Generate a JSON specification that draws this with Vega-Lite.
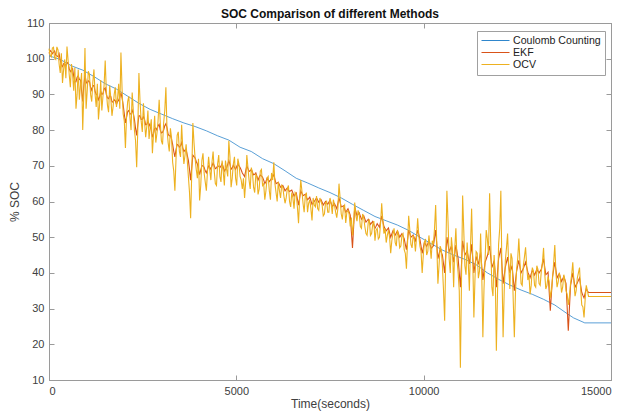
{
  "$schema": "https://vega.github.io/schema/vega-lite/v6.json",
  "width": 562,
  "height": 357,
  "autosize": {"type": "none"},
  "padding": {"left": 49, "top": 23, "right": 19, "bottom": 35},
  "background": "white",
  "title": {"text": "SOC Comparison of different Methods", "font": "Liberation Sans", "fontSize": 12, "fontWeight": "bold", "color": "#111111", "anchor": "middle", "offset": 5, "dy": 9},
  "datasets": {
    "cc": [
      {"t":0,"v":100.8},{"t":300,"v":99.8},{"t":600,"v":98},{"t":900,"v":96.8},{"t":1200,"v":95},{"t":1500,"v":93},{"t":1800,"v":91.5},{"t":2100,"v":89.5},{"t":2400,"v":87.5},{"t":2700,"v":85.8},{"t":3000,"v":84.5},{"t":3300,"v":83.2},{"t":3600,"v":82},{"t":3900,"v":81},{"t":4200,"v":79.8},{"t":4500,"v":78.4},{"t":4800,"v":77.2},{"t":5100,"v":75.2},{"t":5400,"v":74},{"t":5700,"v":72},{"t":6000,"v":70.6},{"t":6300,"v":68.6},{"t":6600,"v":66.5},{"t":6900,"v":65.2},{"t":7200,"v":63.8},{"t":7500,"v":62.5},{"t":7800,"v":61},{"t":8100,"v":59.2},{"t":8400,"v":57.5},{"t":8700,"v":55.8},{"t":9000,"v":54.6},{"t":9300,"v":53.4},{"t":9600,"v":51.9},{"t":9900,"v":50},{"t":10200,"v":48.2},{"t":10500,"v":46.4},{"t":10800,"v":45},{"t":11100,"v":43.8},{"t":11400,"v":42.3},{"t":11700,"v":40},{"t":12000,"v":38.2},{"t":12300,"v":36.6},{"t":12600,"v":35.2},{"t":12900,"v":34},{"t":13200,"v":32.6},{"t":13500,"v":31},{"t":13800,"v":28.8},{"t":14000,"v":27.4},{"t":14300,"v":26},{"t":15000,"v":26}
    ],
    "noisy": [
      {"t":0,"o":102.8,"e":101.5},{"t":30,"o":101.0,"e":102.3},{"t":60,"o":100.5,"e":102.0},{"t":90,"o":103.0,"e":101.4},{"t":120,"o":103.2,"e":101.8},{"t":150,"o":100.2,"e":102.2},{"t":180,"o":99.8,"e":101.0},{"t":210,"o":103.3,"e":100.8},{"t":240,"o":102.5,"e":100.6},{"t":270,"o":98.5,"e":101.4},{"t":300,"o":96.0,"e":99.5},{"t":330,"o":101.5,"e":98.2},{"t":360,"o":93.2,"e":97.8},{"t":390,"o":97.0,"e":98.6},{"t":420,"o":99.8,"e":98.5},{"t":450,"o":94.5,"e":98.0},{"t":480,"o":103.4,"e":99.0},{"t":510,"o":99.5,"e":98.8},{"t":540,"o":95.5,"e":97.2},{"t":570,"o":92.0,"e":96.4},{"t":600,"o":98.5,"e":96.8},{"t":630,"o":95.5,"e":97.2},{"t":660,"o":91.0,"e":95.0},{"t":690,"o":97.5,"e":93.6},{"t":720,"o":86.0,"e":93.5},{"t":750,"o":90.0,"e":94.8},{"t":780,"o":97.0,"e":95.2},{"t":810,"o":88.5,"e":94.2},{"t":840,"o":92.5,"e":94.0},{"t":870,"o":96.0,"e":91.0},{"t":900,"o":80.0,"e":88.0},{"t":930,"o":90.5,"e":92.5},{"t":960,"o":103.0,"e":95.5},{"t":990,"o":86.0,"e":93.6},{"t":1020,"o":91.0,"e":93.0},
      {"t":1050,"o":96.5,"e":93.8},{"t":1080,"o":95.5,"e":93.6},{"t":1110,"o":90.0,"e":92.0},{"t":1140,"o":88.0,"e":91.2},{"t":1170,"o":93.5,"e":92.4},{"t":1200,"o":97.0,"e":92.5},{"t":1230,"o":90.0,"e":90.8},{"t":1260,"o":86.5,"e":90.0},{"t":1290,"o":93.0,"e":89.8},{"t":1320,"o":83.0,"e":88.5},{"t":1350,"o":87.0,"e":89.2},{"t":1380,"o":94.0,"e":90.8},{"t":1410,"o":85.5,"e":90.0},{"t":1440,"o":89.5,"e":90.2},{"t":1470,"o":92.5,"e":91.5},{"t":1500,"o":99.5,"e":91.8},{"t":1530,"o":91.0,"e":90.0},{"t":1560,"o":87.0,"e":89.0},{"t":1590,"o":85.0,"e":88.8},{"t":1620,"o":92.5,"e":89.6},{"t":1650,"o":89.0,"e":89.4},{"t":1680,"o":84.0,"e":88.0},{"t":1710,"o":86.5,"e":87.8},{"t":1740,"o":90.0,"e":88.5},{"t":1770,"o":92.0,"e":88.2},{"t":1800,"o":86.5,"e":87.2},{"t":1830,"o":89.0,"e":88.0},{"t":1860,"o":93.0,"e":88.4},{"t":1890,"o":86.0,"e":89.2},{"t":1920,"o":101.7,"e":90.5},{"t":1950,"o":91.5,"e":89.0},{"t":1980,"o":84.5,"e":87.0},{"t":2010,"o":82.5,"e":84.5},{"t":2040,"o":75.0,"e":82.0},
      {"t":2070,"o":84.0,"e":83.6},{"t":2100,"o":88.0,"e":85.2},{"t":2130,"o":89.5,"e":85.5},{"t":2160,"o":83.5,"e":84.5},{"t":2190,"o":80.0,"e":84.5},{"t":2220,"o":90.5,"e":85.6},{"t":2250,"o":85.5,"e":84.6},{"t":2280,"o":80.0,"e":83.0},{"t":2310,"o":77.0,"e":80.5},{"t":2340,"o":69.6,"e":78.5},{"t":2370,"o":80.0,"e":81.5},{"t":2400,"o":96.0,"e":84.0},{"t":2430,"o":88.0,"e":84.0},{"t":2460,"o":82.5,"e":83.0},{"t":2490,"o":79.5,"e":83.0},{"t":2520,"o":87.5,"e":83.8},{"t":2550,"o":82.5,"e":83.0},{"t":2580,"o":78.0,"e":81.5},{"t":2610,"o":81.0,"e":81.6},{"t":2640,"o":85.5,"e":82.4},{"t":2670,"o":77.5,"e":81.8},{"t":2700,"o":80.5,"e":81.0},{"t":2730,"o":83.0,"e":80.0},{"t":2760,"o":73.5,"e":78.0},{"t":2790,"o":79.0,"e":79.0},{"t":2820,"o":84.0,"e":80.5},{"t":2850,"o":76.5,"e":80.6},{"t":2880,"o":79.0,"e":80.0},{"t":2910,"o":82.5,"e":81.2},{"t":2940,"o":88.5,"e":81.6},{"t":2970,"o":82.0,"e":80.0},{"t":3000,"o":77.0,"e":79.2},{"t":3030,"o":76.0,"e":79.4},{"t":3060,"o":82.0,"e":80.0},
      {"t":3090,"o":85.5,"e":81.2},{"t":3120,"o":92.0,"e":81.8},{"t":3150,"o":80.0,"e":80.6},{"t":3180,"o":76.5,"e":78.8},{"t":3210,"o":74.0,"e":78.4},{"t":3240,"o":80.5,"e":78.5},{"t":3270,"o":78.0,"e":77.5},{"t":3300,"o":71.0,"e":76.0},{"t":3330,"o":68.5,"e":74.0},{"t":3360,"o":63.0,"e":72.5},{"t":3390,"o":72.0,"e":74.5},{"t":3420,"o":78.5,"e":76.0},{"t":3450,"o":79.5,"e":75.8},{"t":3480,"o":74.0,"e":75.2},{"t":3510,"o":72.5,"e":75.6},{"t":3540,"o":81.5,"e":76.5},{"t":3570,"o":75.0,"e":75.0},{"t":3600,"o":70.5,"e":74.0},{"t":3630,"o":73.0,"e":74.4},{"t":3660,"o":76.0,"e":74.5},{"t":3690,"o":71.5,"e":73.0},{"t":3720,"o":67.0,"e":71.5},{"t":3750,"o":62.5,"e":69.0},{"t":3780,"o":55.3,"e":66.0},{"t":3810,"o":68.0,"e":69.5},{"t":3840,"o":82.0,"e":73.0},{"t":3870,"o":76.5,"e":72.6},{"t":3900,"o":72.0,"e":72.2},{"t":3930,"o":69.0,"e":71.2},{"t":3960,"o":66.5,"e":70.5},{"t":3990,"o":72.0,"e":69.0},{"t":4020,"o":60.3,"e":67.5},{"t":4050,"o":64.5,"e":68.8},{"t":4080,"o":71.5,"e":70.0},
      {"t":4110,"o":73.5,"e":70.0},{"t":4140,"o":68.0,"e":69.6},{"t":4170,"o":65.5,"e":68.6},{"t":4200,"o":63.0,"e":68.0},{"t":4230,"o":68.5,"e":69.0},{"t":4260,"o":72.5,"e":70.0},{"t":4290,"o":69.0,"e":69.6},{"t":4320,"o":66.0,"e":69.0},{"t":4350,"o":71.0,"e":70.0},{"t":4380,"o":74.0,"e":70.8},{"t":4410,"o":68.5,"e":70.0},{"t":4440,"o":65.0,"e":69.2},{"t":4470,"o":64.5,"e":69.4},{"t":4500,"o":70.5,"e":70.0},{"t":4530,"o":73.0,"e":69.9},{"t":4560,"o":67.0,"e":69.5},{"t":4590,"o":65.5,"e":69.9},{"t":4620,"o":71.5,"e":70.6},{"t":4650,"o":68.5,"e":69.6},{"t":4680,"o":64.5,"e":68.5},{"t":4710,"o":71.5,"e":69.0},{"t":4740,"o":69.0,"e":69.4},{"t":4770,"o":67.0,"e":70.4},{"t":4800,"o":77.0,"e":71.5},{"t":4830,"o":72.5,"e":70.4},{"t":4860,"o":64.0,"e":69.0},{"t":4890,"o":66.5,"e":69.4},{"t":4920,"o":70.5,"e":70.2},{"t":4950,"o":72.5,"e":69.6},{"t":4980,"o":66.5,"e":69.0},{"t":5010,"o":64.5,"e":69.8},{"t":5040,"o":72.0,"e":70.5},{"t":5070,"o":70.5,"e":70.0},{"t":5100,"o":67.0,"e":69.5},
      {"t":5130,"o":66.0,"e":68.8},{"t":5160,"o":63.5,"e":68.0},{"t":5190,"o":66.5,"e":67.5},{"t":5220,"o":61.0,"e":67.0},{"t":5250,"o":65.5,"e":68.6},{"t":5280,"o":73.0,"e":70.0},{"t":5310,"o":69.5,"e":69.2},{"t":5340,"o":66.0,"e":68.4},{"t":5370,"o":63.5,"e":68.6},{"t":5400,"o":69.5,"e":69.0},{"t":5430,"o":68.0,"e":68.2},{"t":5460,"o":64.0,"e":67.5},{"t":5490,"o":62.5,"e":67.6},{"t":5520,"o":67.5,"e":68.0},{"t":5550,"o":67.0,"e":67.0},{"t":5580,"o":62.0,"e":66.0},{"t":5610,"o":63.5,"e":66.8},{"t":5640,"o":68.5,"e":67.4},{"t":5670,"o":69.0,"e":67.2},{"t":5700,"o":64.5,"e":66.8},{"t":5730,"o":65.0,"e":66.0},{"t":5760,"o":60.5,"e":65.0},{"t":5790,"o":63.0,"e":65.6},{"t":5820,"o":66.5,"e":66.5},{"t":5850,"o":67.0,"e":66.0},{"t":5880,"o":63.0,"e":65.6},{"t":5910,"o":60.5,"e":66.0},{"t":5940,"o":68.0,"e":66.5},{"t":5970,"o":66.0,"e":67.0},{"t":6000,"o":71.0,"e":67.5},{"t":6030,"o":65.0,"e":66.2},{"t":6060,"o":62.5,"e":65.0},
      {"t":6090,"o":60.0,"e":65.2},{"t":6120,"o":65.5,"e":65.4},{"t":6150,"o":63.0,"e":64.7},{"t":6180,"o":61.0,"e":64.0},{"t":6210,"o":64.5,"e":64.2},{"t":6240,"o":64.0,"e":64.5},{"t":6270,"o":61.5,"e":63.8},{"t":6300,"o":59.5,"e":63.0},{"t":6330,"o":61.0,"e":63.4},{"t":6360,"o":63.5,"e":63.8},{"t":6390,"o":64.5,"e":63.2},{"t":6420,"o":60.0,"e":62.8},{"t":6450,"o":58.5,"e":63.0},{"t":6480,"o":62.5,"e":63.2},{"t":6510,"o":61.0,"e":62.4},{"t":6540,"o":58.0,"e":61.5},{"t":6570,"o":62.5,"e":62.0},{"t":6600,"o":62.0,"e":62.4},{"t":6630,"o":58.5,"e":60.7},{"t":6660,"o":53.9,"e":59.0},{"t":6690,"o":61.0,"e":61.0},{"t":6720,"o":66.0,"e":63.0},{"t":6750,"o":63.0,"e":62.3},{"t":6780,"o":59.5,"e":61.6},{"t":6810,"o":57.0,"e":61.8},{"t":6840,"o":61.5,"e":62.0},{"t":6870,"o":62.5,"e":61.2},{"t":6900,"o":57.0,"e":60.5},{"t":6930,"o":59.5,"e":60.8},{"t":6960,"o":60.5,"e":61.2},{"t":6990,"o":58.0,"e":60.2},{"t":7020,"o":54.7,"e":59.2},{"t":7050,"o":61.0,"e":59.6},{"t":7080,"o":59.0,"e":60.0},
      {"t":7110,"o":58.5,"e":60.5},{"t":7140,"o":61.5,"e":61.0},{"t":7170,"o":58.0,"e":60.4},{"t":7200,"o":57.5,"e":59.8},{"t":7230,"o":61.0,"e":60.2},{"t":7260,"o":60.0,"e":60.5},{"t":7290,"o":59.0,"e":59.8},{"t":7320,"o":56.0,"e":59.0},{"t":7350,"o":56.5,"e":59.5},{"t":7380,"o":59.5,"e":60.0},{"t":7410,"o":60.0,"e":59.6},{"t":7440,"o":57.0,"e":59.2},{"t":7470,"o":57.0,"e":59.8},{"t":7500,"o":61.0,"e":60.4},{"t":7530,"o":59.5,"e":59.5},{"t":7560,"o":56.5,"e":58.6},{"t":7590,"o":60.5,"e":59.0},{"t":7620,"o":59.0,"e":59.4},{"t":7650,"o":57.0,"e":58.7},{"t":7680,"o":55.5,"e":58.0},{"t":7710,"o":58.0,"e":59.5},{"t":7740,"o":65.0,"e":61.0},{"t":7770,"o":61.0,"e":59.8},{"t":7800,"o":56.5,"e":58.5},{"t":7830,"o":55.0,"e":58.6},{"t":7860,"o":58.5,"e":58.8},{"t":7890,"o":59.0,"e":57.9},{"t":7920,"o":54.0,"e":57.0},{"t":7950,"o":57.0,"e":57.5},{"t":7980,"o":57.5,"e":58.0},{"t":8010,"o":56.5,"e":57.1},{"t":8040,"o":53.0,"e":56.2},{"t":8070,"o":55.5,"e":51.6},{"t":8100,"o":50.5,"e":47.0},
      {"t":8130,"o":54.0,"e":52.8},{"t":8160,"o":59.7,"e":58.5},{"t":8190,"o":56.0,"e":57.2},{"t":8220,"o":54.5,"e":56.0},{"t":8250,"o":57.5,"e":56.4},{"t":8280,"o":56.5,"e":56.8},{"t":8310,"o":53.0,"e":55.9},{"t":8340,"o":52.5,"e":55.0},{"t":8370,"o":56.5,"e":55.5},{"t":8400,"o":55.5,"e":56.0},{"t":8430,"o":53.0,"e":55.1},{"t":8460,"o":51.0,"e":54.2},{"t":8490,"o":50.5,"e":54.6},{"t":8520,"o":54.0,"e":55.0},{"t":8550,"o":55.0,"e":54.3},{"t":8580,"o":50.5,"e":53.6},{"t":8610,"o":51.0,"e":54.0},{"t":8640,"o":53.5,"e":54.4},{"t":8670,"o":54.5,"e":53.5},{"t":8700,"o":49.0,"e":52.5},{"t":8730,"o":52.0,"e":53.1},{"t":8760,"o":52.5,"e":53.8},{"t":8790,"o":49.5,"e":53.3},{"t":8820,"o":50.0,"e":52.8},{"t":8850,"o":54.0,"e":54.4},{"t":8880,"o":59.5,"e":56.0},{"t":8910,"o":54.5,"e":54.5},{"t":8940,"o":51.0,"e":53.0},{"t":8970,"o":52.5,"e":52.4},{"t":9000,"o":48.5,"e":51.8},{"t":9030,"o":50.5,"e":52.2},{"t":9060,"o":52.0,"e":52.6},{"t":9090,"o":50.0,"e":51.3},{"t":9120,"o":45.5,"e":50.0},
      {"t":9150,"o":49.0,"e":50.9},{"t":9180,"o":51.0,"e":51.8},{"t":9210,"o":52.5,"e":51.2},{"t":9240,"o":48.5,"e":50.6},{"t":9270,"o":47.5,"e":51.2},{"t":9300,"o":52.0,"e":51.8},{"t":9330,"o":50.5,"e":50.9},{"t":9360,"o":47.0,"e":50.0},{"t":9390,"o":47.5,"e":50.5},{"t":9420,"o":50.5,"e":51.0},{"t":9450,"o":51.0,"e":50.3},{"t":9480,"o":46.5,"e":49.6},{"t":9510,"o":45.5,"e":48.0},{"t":9540,"o":41.2,"e":46.5},{"t":9570,"o":48.5,"e":49.3},{"t":9600,"o":56.0,"e":52.0},{"t":9630,"o":52.0,"e":51.0},{"t":9660,"o":48.0,"e":50.0},{"t":9690,"o":47.0,"e":50.3},{"t":9720,"o":50.5,"e":50.6},{"t":9750,"o":49.5,"e":49.8},{"t":9780,"o":46.0,"e":49.0},{"t":9810,"o":50.0,"e":50.5},{"t":9840,"o":55.3,"e":52.0},{"t":9870,"o":50.5,"e":50.7},{"t":9900,"o":47.5,"e":49.4},{"t":9930,"o":46.0,"e":47.5},{"t":9960,"o":40.0,"e":45.5},{"t":9990,"o":45.0,"e":47.0},{"t":10020,"o":48.5,"e":48.6},{"t":10050,"o":49.5,"e":48.0},{"t":10080,"o":45.0,"e":47.4},
      {"t":10110,"o":46.0,"e":48.2},{"t":10140,"o":50.5,"e":49.0},{"t":10170,"o":47.5,"e":47.9},{"t":10200,"o":44.0,"e":46.8},{"t":10230,"o":49.0,"e":47.2},{"t":10260,"o":48.0,"e":47.6},{"t":10290,"o":52.5,"e":49.8},{"t":10320,"o":59.0,"e":52.0},{"t":10350,"o":48.0,"e":48.0},{"t":10380,"o":37.0,"e":44.0},{"t":10410,"o":42.0,"e":45.3},{"t":10440,"o":47.5,"e":46.6},{"t":10470,"o":46.5,"e":45.8},{"t":10500,"o":42.0,"e":45.0},{"t":10530,"o":35.0,"e":42.5},{"t":10560,"o":26.6,"e":40.0},{"t":10590,"o":45.0,"e":45.0},{"t":10620,"o":63.0,"e":50.0},{"t":10650,"o":54.5,"e":48.0},{"t":10680,"o":44.0,"e":46.0},{"t":10710,"o":40.0,"e":46.7},{"t":10740,"o":50.0,"e":47.5},{"t":10770,"o":46.5,"e":45.2},{"t":10800,"o":36.0,"e":43.0},{"t":10830,"o":47.0,"e":45.4},{"t":10860,"o":52.5,"e":47.8},{"t":10890,"o":43.5,"e":45.9},{"t":10920,"o":40.0,"e":44.0},{"t":10950,"o":35.0,"e":40.0},{"t":10980,"o":13.4,"e":36.0},{"t":11010,"o":38.0,"e":42.5},{"t":11040,"o":61.7,"e":49.0},{"t":11070,"o":52.0,"e":47.0},{"t":11100,"o":42.0,"e":45.0},
      {"t":11130,"o":39.5,"e":45.6},{"t":11160,"o":48.5,"e":46.2},{"t":11190,"o":43.0,"e":44.4},{"t":11220,"o":35.0,"e":42.5},{"t":11250,"o":47.5,"e":45.2},{"t":11280,"o":58.0,"e":48.0},{"t":11310,"o":44.0,"e":44.0},{"t":11340,"o":27.5,"e":40.0},{"t":11370,"o":38.5,"e":42.3},{"t":11400,"o":46.0,"e":44.6},{"t":11430,"o":45.5,"e":43.5},{"t":11460,"o":38.5,"e":42.4},{"t":11490,"o":40.5,"e":44.1},{"t":11520,"o":51.0,"e":45.8},{"t":11550,"o":40.0,"e":41.9},{"t":11580,"o":22.0,"e":38.0},{"t":11610,"o":35.5,"e":40.5},{"t":11640,"o":44.0,"e":43.0},{"t":11670,"o":52.0,"e":43.9},{"t":11700,"o":49.5,"e":44.8},{"t":11730,"o":45.0,"e":46.1},{"t":11760,"o":62.3,"e":47.5},{"t":11790,"o":48.5,"e":44.5},{"t":11820,"o":36.0,"e":41.5},{"t":11850,"o":33.5,"e":42.4},{"t":11880,"o":45.0,"e":43.4},{"t":11910,"o":39.5,"e":39.7},{"t":11940,"o":18.2,"e":36.0},{"t":11970,"o":34.0,"e":40.0},{"t":12000,"o":48.0,"e":44.0},{"t":12030,"o":52.5,"e":45.5},{"t":12060,"o":63.0,"e":47.0},{"t":12090,"o":40.0,"e":42.0},{"t":12120,"o":22.0,"e":37.0},
      {"t":12150,"o":35.0,"e":39.3},{"t":12180,"o":43.5,"e":41.6},{"t":12210,"o":47.0,"e":43.0},{"t":12240,"o":51.0,"e":44.4},{"t":12270,"o":42.0,"e":42.2},{"t":12300,"o":35.5,"e":40.0},{"t":12330,"o":45.5,"e":41.0},{"t":12360,"o":44.0,"e":42.0},{"t":12390,"o":32.5,"e":38.5},{"t":12420,"o":22.0,"e":35.0},{"t":12450,"o":34.5,"e":37.7},{"t":12480,"o":41.0,"e":40.4},{"t":12510,"o":44.0,"e":42.0},{"t":12540,"o":49.6,"e":43.5},{"t":12570,"o":43.0,"e":41.7},{"t":12600,"o":37.0,"e":40.0},{"t":12630,"o":36.5,"e":40.6},{"t":12660,"o":42.0,"e":41.2},{"t":12690,"o":44.5,"e":42.1},{"t":12720,"o":47.2,"e":43.0},{"t":12750,"o":42.0,"e":41.6},{"t":12780,"o":38.0,"e":40.2},{"t":12810,"o":39.5,"e":39.4},{"t":12840,"o":34.0,"e":38.6},{"t":12870,"o":36.5,"e":39.7},{"t":12900,"o":41.5,"e":40.8},{"t":12930,"o":40.5,"e":40.1},{"t":12960,"o":36.5,"e":39.4},{"t":12990,"o":36.0,"e":40.2},{"t":13020,"o":42.0,"e":41.0},{"t":13050,"o":41.0,"e":40.5},{"t":13080,"o":37.0,"e":40.0},
      {"t":13110,"o":36.5,"e":40.5},{"t":13140,"o":40.5,"e":41.0},{"t":13170,"o":43.0,"e":42.5},{"t":13200,"o":47.0,"e":44.0},{"t":13230,"o":40.0,"e":41.7},{"t":13260,"o":35.5,"e":39.5},{"t":13290,"o":36.5,"e":39.8},{"t":13320,"o":39.0,"e":40.2},{"t":13350,"o":37.5,"e":34.8},{"t":13380,"o":33.0,"e":29.4},{"t":13410,"o":35.0,"e":34.2},{"t":13440,"o":38.5,"e":39.0},{"t":13470,"o":43.0,"e":41.0},{"t":13500,"o":47.8,"e":43.0},{"t":13530,"o":40.0,"e":40.8},{"t":13560,"o":36.0,"e":38.6},{"t":13590,"o":37.5,"e":39.2},{"t":13620,"o":40.0,"e":39.8},{"t":13650,"o":38.5,"e":38.7},{"t":13680,"o":34.5,"e":37.6},{"t":13710,"o":36.0,"e":38.3},{"t":13740,"o":39.5,"e":39.0},{"t":13770,"o":38.0,"e":38.0},{"t":13800,"o":35.0,"e":37.0},{"t":13830,"o":34.0,"e":30.4},{"t":13860,"o":31.0,"e":23.8},{"t":13890,"o":33.5,"e":30.1},{"t":13920,"o":37.0,"e":36.4},{"t":13950,"o":39.5,"e":38.2},{"t":13980,"o":43.0,"e":40.0},{"t":14010,"o":37.5,"e":38.0},{"t":14040,"o":33.5,"e":36.0},{"t":14070,"o":35.0,"e":36.6},{"t":14100,"o":38.5,"e":37.2},{"t":14130,"o":40.0,"e":37.9},{"t":14160,"o":41.5,"e":38.6},{"t":14190,"o":35.5,"e":36.5},{"t":14220,"o":31.0,"e":34.5},{"t":14250,"o":30.5,"e":33.7},{"t":14280,"o":27.5,"e":33.0},{"t":14310,"o":32.5,"e":34.3},{"t":14340,"o":36.5,"e":35.6},{"t":14370,"o":35.0,"e":35.0},{"t":14400,"o":33.4,"e":34.5},{"t":15000,"o":33.4,"e":34.5}
    ]
  },
  "layer": [
    {
      "data": {"name": "cc"},
      "mark": {"type": "line", "strokeWidth": 0.8},
      "encoding": {
        "x": {"field": "t", "type": "quantitative", "scale": {"domain": [0, 15000], "nice": false, "zero": false},
              "axis": {"orient": "top", "labels": false, "title": null, "values": [0, 5000, 10000, 15000], "tickSize": -5, "grid": false}},
        "y": {"field": "v", "type": "quantitative", "scale": {"domain": [10, 110], "nice": false, "zero": false},
              "axis": {"orient": "right", "labels": false, "title": null, "values": [10,20,30,40,50,60,70,80,90,100,110], "tickSize": -5, "grid": false}},
        "color": {"datum": "Coulomb Counting", "scale": {"domain": ["Coulomb Counting", "EKF", "OCV"], "range": ["#2F86CC", "#D95319", "#EDB120"]}, "legend": {"title": null}}
      }
    },
    {
      "data": {"name": "noisy"},
      "mark": {"type": "line", "strokeWidth": 1.1},
      "encoding": {
        "x": {"field": "t", "type": "quantitative",
              "axis": {"orient": "bottom", "title": "Time(seconds)", "format": "d", "values": [0, 5000, 10000, 15000], "tickSize": -5, "grid": false, "labelPadding": 10, "titlePadding": 2}},
        "y": {"field": "e", "type": "quantitative",
              "axis": {"orient": "left", "title": "% SOC", "format": "d", "values": [10,20,30,40,50,60,70,80,90,100,110], "tickSize": -5, "grid": false, "labelPadding": 10, "titlePadding": 4}},
        "color": {"datum": "EKF", "legend": {"title": null}}
      }
    },
    {
      "data": {"name": "noisy"},
      "mark": {"type": "line", "strokeWidth": 1.1},
      "encoding": {
        "x": {"field": "t", "type": "quantitative", "axis": null},
        "y": {"field": "o", "type": "quantitative", "axis": null},
        "color": {"datum": "OCV", "legend": {"title": null}}
      }
    }
  ],
  "resolve": {"axis": {"x": "independent", "y": "independent"}},
  "config": {
    "font": "Liberation Sans",
    "view": {"stroke": "#9a9a9a"},
    "axis": {
      "domainColor": "#9a9a9a", "tickColor": "#9a9a9a", "labelColor": "#404040", "titleColor": "#404040",
      "labelFont": "Liberation Sans", "titleFont": "Liberation Sans", "labelFontSize": 11, "titleFontSize": 12, "titleFontWeight": "normal"
    },
    "legend": {
      "orient": "none", "legendX": 428, "legendY": 8,
      "symbolType": "stroke", "symbolSize": 784, "symbolStrokeWidth": 1,
      "labelFont": "Liberation Sans", "labelFontSize": 10.6, "labelColor": "#222222", "labelOffset": 3,
      "strokeColor": "#a0a0a0", "fillColor": "white", "padding": 4, "rowPadding": 0, "clipHeight": 11, "cornerRadius": 0
    }
  }
}
